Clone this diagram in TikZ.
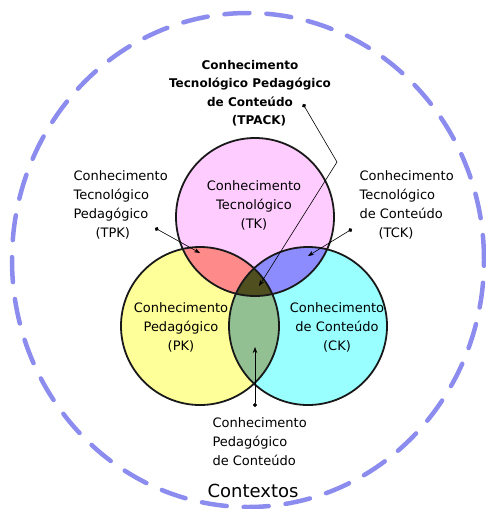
\documentclass[tikz,border=0pt]{standalone}
\usepackage{fontspec}
\setmainfont{DejaVu Sans}
\usetikzlibrary{arrows.meta}

\definecolor{tkpink}{HTML}{FFCCFF}
\definecolor{pkyellow}{HTML}{FFFF99}
\definecolor{ckcyan}{HTML}{99FFFF}
\definecolor{tpkred}{HTML}{FF8A8A}
\definecolor{tckblue}{HTML}{8C8CFF}
\definecolor{pckgreen}{HTML}{92C092}
\definecolor{tpackolive}{HTML}{4F4F20}
\definecolor{ctxblue}{RGB}{140,140,238}

\tikzset{
  lbl/.style={font=\fontsize{13}{19}\selectfont, align=center},
  ring/.style={draw=black!90, line width=1.8pt},
  ptr/.style={{Circle[length=4pt]}-{Stealth[length=6pt]}, line width=0.6pt}
}

\begin{document}
\begin{tikzpicture}[x=1pt, y=-1pt]
\useasboundingbox (0,0) rectangle (485,509);

% contextos
\draw[ctxblue, line width=4.5pt, line cap=round, dash pattern=on 25pt off 17pt]
  (248,260) ellipse [x radius=236pt, y radius=247pt];

% os tres circulos
\coordinate (T) at (255,217);
\coordinate (P) at (200,326);
\coordinate (C) at (308,326);
\fill[tkpink] (T) circle [radius=79pt];
\fill[pkyellow] (P) circle [radius=79pt];
\fill[ckcyan] (C) circle [radius=79pt];
\begin{scope}
  \clip (T) circle [radius=79pt];
  \fill[tpkred] (P) circle [radius=79pt];
  \fill[tckblue] (C) circle [radius=79pt];
\end{scope}
\begin{scope}
  \clip (P) circle [radius=79pt];
  \fill[pckgreen] (C) circle [radius=79pt];
\end{scope}
\begin{scope}
  \clip (T) circle [radius=79pt];
  \clip (P) circle [radius=79pt];
  \fill[tpackolive] (C) circle [radius=79pt];
\end{scope}
\draw[ring] (T) circle [radius=79pt];
\draw[ring] (P) circle [radius=79pt];
\draw[ring] (C) circle [radius=79pt];

% textos
\node (tk) at (254,205) [lbl] {Conhecimento\\Tecnológico\\(TK)};
\node (pk) at (181,327) [lbl] {Conhecimento\\Pedagógico\\(PK)};
\node (ck) at (337,327) [lbl] {Conhecimento\\de Conteúdo\\(CK)};
\node (tpack) at (250,93) [lbl, font=\bfseries\fontsize{12}{18.5}\selectfont]
  {Conhecimento\\Tecnológico Pedagógico\\de Conteúdo\\\hspace*{18pt}(TPACK)};
\node (tpk) at (70,205) [lbl, anchor=west, align=left]
  {Conhecimento\\Tecnológico\\Pedagógico\\\hspace*{22pt}(TPK)};
\node (tck) at (356,205) [lbl, anchor=west, align=left]
  {Conhecimento\\Tecnológico\\de Conteúdo\\\hspace*{19pt}(TCK)};
\node (pck) at (209,442) [lbl, anchor=west, align=left]
  {Conhecimento\\Pedagógico\\de Conteúdo};
\node (ctx) at (253,491) [font=\fontsize{18}{20}\selectfont] {Contextos};

% setas
\coordinate (tpackdot) at (303,104);
\coordinate (tpackbend) at (337,162);
\coordinate (tpackend) at (259,286);
\draw[ptr] (tpackdot) -- (tpackbend) -- (tpackend);
\coordinate (tpkdot) at (155,228);
\coordinate (tpkend) at (200,253);
\draw[ptr] (tpkdot) -- (tpkend);
\coordinate (tckdot) at (352,229);
\coordinate (tckend) at (308,256);
\draw[ptr] (tckdot) -- (tckend);
\coordinate (pckdot) at (255,407);
\coordinate (pckend) at (255,347);
\draw[ptr] (pckdot) -- (pckend);
\end{tikzpicture}
\end{document}
